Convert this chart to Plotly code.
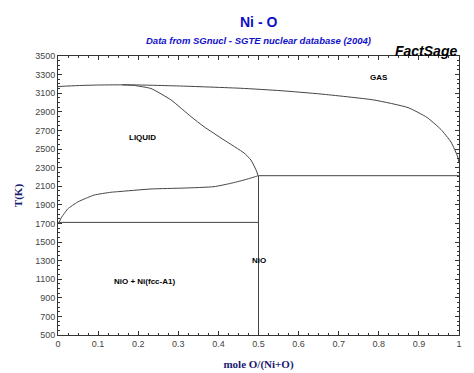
import plotly.graph_objects as go

# Gas / liquid boundary (upper curve)
gas_x = [0.0, 0.05, 0.10, 0.18, 0.30, 0.456, 0.556, 0.656, 0.788, 0.873, 0.92, 0.955, 0.98, 0.997, 1.0]
gas_t = [3172, 3182, 3188, 3190, 3178, 3153, 3127, 3091, 3027, 2945, 2840, 2710, 2575, 2414, 2350]

# Liquidus from the gas curve down to NiO
liq_x = [0.16, 0.19, 0.232, 0.282, 0.332, 0.364, 0.414, 0.464, 0.481, 0.494, 0.499]
liq_t = [3190, 3183, 3150, 3027, 2847, 2740, 2597, 2457, 2382, 2274, 2213]

# Lower liquid boundary (Ni-rich side up to NiO)
low_x = [0.003, 0.008, 0.016, 0.024, 0.049, 0.074, 0.090, 0.132, 0.149, 0.232, 0.314, 0.389, 0.431, 0.464, 0.494, 0.499]
low_t = [1711, 1760, 1809, 1855, 1930, 1978, 2005, 2035, 2041, 2070, 2080, 2095, 2131, 2167, 2205, 2213]

# Invariant lines
eut_x = [0.0, 0.5]
eut_t = [1711, 1711]
nio_melt_x = [0.5, 1.0]
nio_melt_t = [2213, 2213]
nio_x = [0.5, 0.5]
nio_t = [500, 2213]

# Region labels
lab_text = ["GAS", "LIQUID", "NiO", "NiO + Ni(fcc-A1)"]
lab_x = [0.80, 0.21, 0.50, 0.215]
lab_t = [3274, 2629, 1296, 1070]

x_ticks = [0, 0.1, 0.2, 0.3, 0.4, 0.5, 0.6, 0.7, 0.8, 0.9, 1]
x_tick_text = ["0", "0.1", "0.2", "0.3", "0.4", "0.5", "0.6", "0.7", "0.8", "0.9", "1"]
y_ticks = list(range(500, 3501, 200))

line = dict(color="#444444", width=1)
fig = go.Figure()
for xs, ts in [(gas_x, gas_t), (liq_x, liq_t), (low_x, low_t), (eut_x, eut_t),
               (nio_melt_x, nio_melt_t), (nio_x, nio_t)]:
    fig.add_trace(go.Scatter(x=xs, y=ts, mode="lines", line=dict(**line, shape="spline", smoothing=0.5),
                             hoverinfo="skip", showlegend=False))

for t, x, y in zip(lab_text, lab_x, lab_t):
    fig.add_annotation(x=x, y=y, text="<b>" + t + "</b>", showarrow=False,
                       font=dict(family="Arial, Liberation Sans", size=8, color="black"))

fig.add_annotation(xref="paper", yref="paper", x=0.5, y=1.0, yshift=44, text="<b>Ni - O</b>",
                   showarrow=False, font=dict(family="Arial, Liberation Sans", size=14, color="#1010c8"))
fig.add_annotation(xref="paper", yref="paper", x=0.5, y=1.0, yshift=23,
                   text="<b><i>Data from SGnucl - SGTE nuclear database (2004)</i></b>",
                   showarrow=False, font=dict(family="Arial, Liberation Sans", size=9.5, color="#1010c8"))
fig.add_annotation(xref="paper", yref="paper", x=1.0, y=1.0, xanchor="right", yanchor="bottom", yshift=-5,
                   text="<b><i>FactSage</i></b>",
                   showarrow=False, font=dict(family="Arial, Liberation Sans", size=14, color="black"))

axis_common = dict(showgrid=False, zeroline=False, showline=True, linecolor="#333333", linewidth=1,
                   mirror="ticks", ticks="inside", ticklen=4, tickcolor="#333333", automargin=False,
                   tickfont=dict(family="Arial, Liberation Sans", size=9, color="#444444"))

fig.update_xaxes(range=[0, 1], tickvals=x_ticks, ticktext=x_tick_text,
                 minor=dict(dtick=0.025, ticks="inside", ticklen=2, tickcolor="#333333"),
                 title=dict(text="<b>mole O/(Ni+O)</b>", standoff=12,
                            font=dict(family="Liberation Serif, Times New Roman", size=11, color="#1a1a70")),
                 **axis_common)
fig.update_yaxes(range=[500, 3500], tickvals=y_ticks,
                 minor=dict(dtick=50, ticks="inside", ticklen=2, tickcolor="#333333"),
                 title=dict(text="<b>T(K)</b>", standoff=10,
                            font=dict(family="Liberation Serif, Times New Roman", size=11, color="#1a1a70")),
                 **axis_common)

# page body has an 8px margin, so size the figure to fit the window
fig.update_layout(width=466, height=365, margin=dict(l=50, r=15, t=48, b=38),
                  plot_bgcolor="white", paper_bgcolor="white")
fig.write_html("out.html")
